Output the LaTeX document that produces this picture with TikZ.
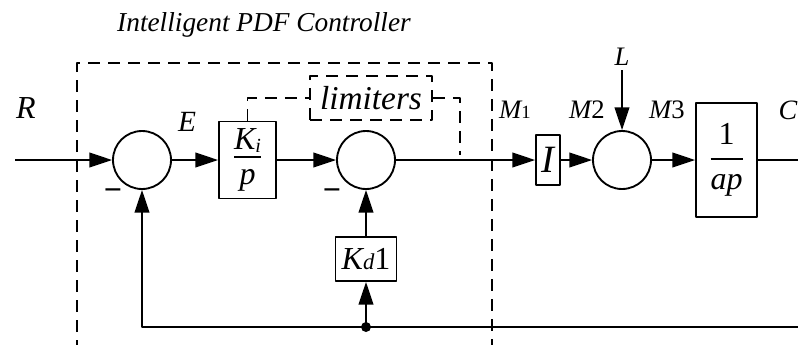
\documentclass[tikz,border=0pt]{standalone}
\usepackage{fontspec}
\setmainfont{Liberation Serif}
\usetikzlibrary{arrows.meta, positioning, calc}

\tikzset{
  blk/.style={draw, line width=1.4pt, inner sep=0pt, font=\itshape\fontsize{24}{27}\selectfont},
  sumnode/.style={draw, circle, line width=1.4pt, minimum size=43.5pt, inner sep=0pt},
  lbl/.style={inner sep=0pt, font=\itshape\fontsize{20}{23}\selectfont},
  sig/.style={line width=1.4pt, -{Triangle[length=17pt,width=11pt]}},
  wire/.style={line width=1.4pt},
  dashline/.style={line width=1.3pt, dash pattern=on 9pt off 6pt},
}

\begin{document}
\begin{tikzpicture}[x=0.75pt, y=-0.75pt, line join=round]
      \useasboundingbox (0,0) rectangle (798,344);
      % controller frame
      \draw[dashline] (77,352) -- (77,63) -- (492,63) -- (492,352);
      \node[lbl, font=\itshape\fontsize{20.5}{23}\selectfont] (title) at (264,25) {Intelligent PDF Controller};
      % blocks
      \coordinate (rin) at (15,160);
      \node[sumnode] (s1) at (142,160) {};
      \node[blk, minimum width=42.75pt, minimum height=57.75pt] (ki) at (247.5,160)
        {${\mbox{K\raisebox{-2pt}{\fontsize{15}{15}\selectfont i}\rule[-4pt]{0pt}{4pt}}\above 1.2pt\mbox{\rule{0pt}{19pt}p}}$};
      \node[sumnode] (s2) at (366,160) {};
      \node[blk, minimum width=45.75pt, minimum height=33pt] (kd) at (366,259)
        {K{\fontsize{17}{17}\selectfont d}{\upshape 1}};
      \node[blk, dashline, minimum width=91.5pt, minimum height=33pt, font=\itshape\fontsize{25}{28}\selectfont] (lim) at (371,98) {limiters};
      \node[blk, minimum width=18pt, minimum height=37.5pt, font=\itshape\fontsize{29}{31}\selectfont] (ib) at (548,160) {I};
      \node[sumnode] (s3) at (622,160) {};
      \node[blk, minimum width=45.75pt, minimum height=85.5pt] (ap) at (726.5,160)
        {$\displaystyle{\mbox{\upshape 1}\above 1.2pt\mbox{ap}}$};
      % labels
      \node[lbl, font=\itshape\fontsize{24}{26}\selectfont] (rlab) at (26,108) {R};
      \node[lbl, font=\itshape\fontsize{22}{24}\selectfont] (elab) at (187,122) {E};
      \node[lbl] (m1) at (515,110) {M{\fontsize{14}{14}\selectfont\upshape 1}};
      \node[lbl] (m2) at (587,110) {M{\upshape 2}};
      \node[lbl] (m3) at (667,110) {M{\upshape 3}};
      \node[lbl] (llab) at (622,57) {L};
      \node[lbl, font=\itshape\fontsize{21}{23}\selectfont] (clab) at (788,110) {C};
      \node[lbl, font=\bfseries\fontsize{24}{26}\selectfont] (neg1) at (113,195) {−};
      \node[lbl, font=\bfseries\fontsize{24}{26}\selectfont] (neg2) at (332,195) {−};
      % signal paths
      \coordinate (lin) at (622,70);
      \coordinate (yend) at (810,160);
      \coordinate (fbend) at (810,327);
      \coordinate (tap) at (366,327);
      \coordinate (limend) at (460,155);
      \draw[sig] (rin) -- (s1);
      \draw[sig] (s1) -- (ki);
      \draw[sig] (ki) -- (s2);
      \draw[sig] (s2) -- (ib);
      \draw[sig] (ib) -- (s3);
      \draw[sig] (lin) -- (s3);
      \draw[sig] (s3) -- (ap);
      \draw[wire] (ap) -- (yend);
      \draw[sig] (fbend) -- (tap) -| (s1);
      \draw[sig] (tap) -- (kd);
      \draw[sig] (kd) -- (s2);
      \fill (tap) circle (5);
      % limiter links
      \draw[dashline] (ki) |- (lim);
      \draw[dashline] (lim) -| (limend);
    \end{tikzpicture}
\end{document}
